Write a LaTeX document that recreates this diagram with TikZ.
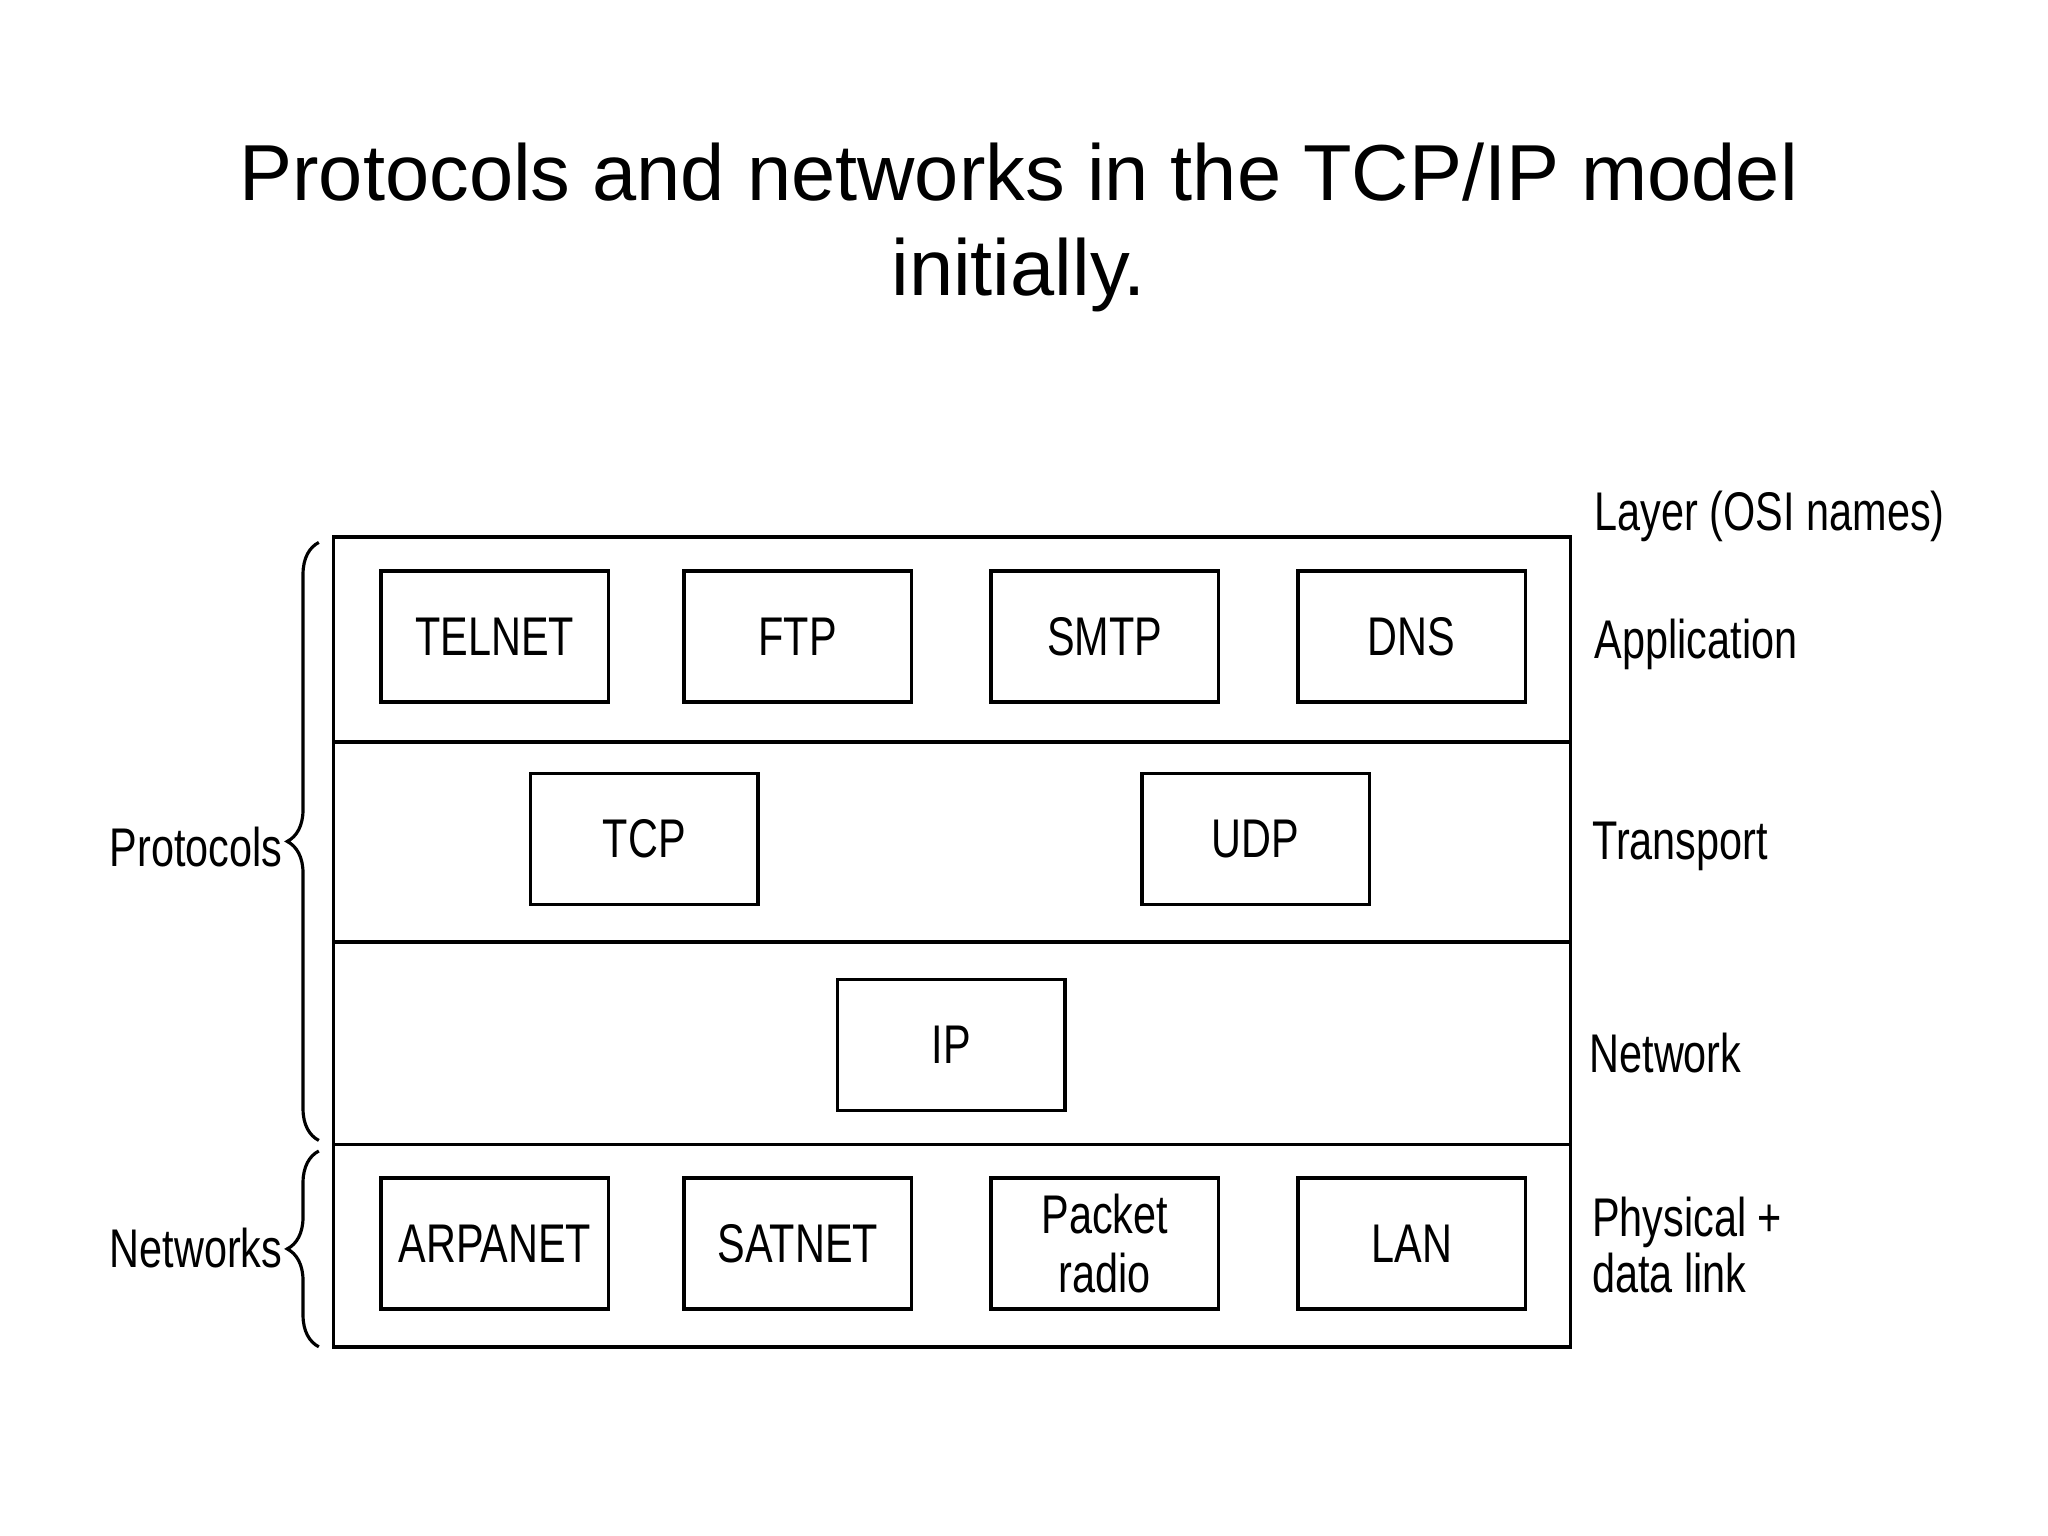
\documentclass[tikz,border=0pt]{standalone}
\usepackage{fontspec}
\setmainfont{Liberation Sans}
\newfontfamily\cond{Liberation Sans}[FakeStretch=0.76]
\usetikzlibrary{decorations.pathreplacing}
\begin{document}
\begin{tikzpicture}[x=0.01323cm,y=-0.01323cm,
  bx/.style={draw,line width=1pt,minimum width=172*0.01323cm,minimum height=99*0.01323cm,inner sep=0pt,font=\cond\fontsize{15.5}{17}\selectfont,align=center},
  lab/.style={font=\cond\fontsize{15.5}{16}\selectfont,inner sep=0pt,align=left},
  br/.style={decorate,decoration={brace,amplitude=9pt},line width=0.9pt}]
\useasboundingbox (0,0) rectangle (1548,1161);
\node[font=\fontsize{22.6}{27}\selectfont,align=center] (title) at (770,172) {Protocols and networks in the TCP/IP model\\initially.};
\draw[line width=1pt] (252,406) rectangle (1187,1018);
\draw[line width=1pt] (252,561) -- (1187,561) (252,712) -- (1187,712) (252,865) -- (1187,865);
\node[bx] (telnet) at (374,481) {TELNET};
\node[bx] (ftp) at (603,481) {FTP};
\node[bx] (smtp) at (835,481) {SMTP};
\node[bx] (dns) at (1067,481) {DNS};
\node[bx] (tcp) at (487,634) {TCP};
\node[bx] (udp) at (949,634) {UDP};
\node[bx] (ip) at (719,790) {IP};
\node[bx] (arpanet) at (374,940) {ARPANET};
\node[bx] (satnet) at (603,940) {SATNET};
\node[bx] (packet) at (835,940) {Packet\\radio};
\node[bx] (lan) at (1067,940) {LAN};
\node[lab,anchor=west] (l0) at (1205,390) {Layer (OSI names)};
\node[lab,anchor=west] (l1) at (1205,487) {Application};
\node[lab,anchor=west] (l2) at (1203,640) {Transport};
\node[lab,anchor=west] (l3) at (1201,796) {Network};
\node[lab,anchor=west] (l4) at (1203,941) {Physical +\\data link};
\node[lab,anchor=east] (prot) at (214,640) {Protocols};
\node[lab,anchor=east] (netw) at (214,943) {Networks};
\draw[br] (241,862) -- (241,410);
\draw[br] (241,1018) -- (241,870);
\end{tikzpicture}
\end{document}
